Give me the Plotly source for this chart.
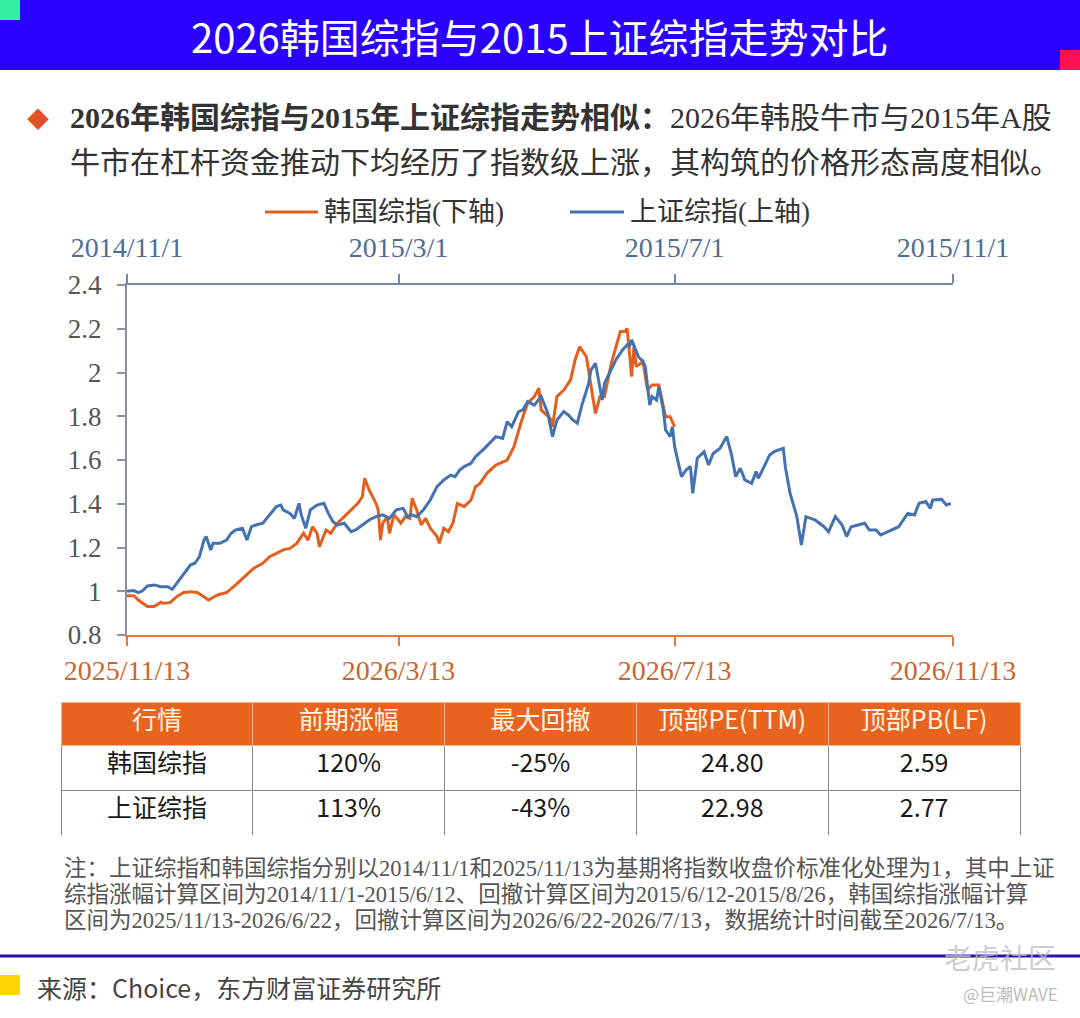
import plotly.graph_objects as go

W, H = 1080, 1018

# --- 韩国综指（下轴，2025/11/13 = 1）---
kr_dates = [
    "2025-11-13", "2025-11-16", "2025-11-18", "2025-11-20", "2025-11-22", "2025-11-25",
    "2025-11-28", "2025-11-29", "2025-12-02", "2025-12-05", "2025-12-08", "2025-12-11",
    "2025-12-14", "2025-12-17", "2025-12-19", "2025-12-23", "2025-12-27", "2025-12-31",
    "2026-01-05", "2026-01-08", "2026-01-12", "2026-01-15", "2026-01-18", "2026-01-21",
    "2026-01-24", "2026-01-27", "2026-01-30", "2026-02-01", "2026-02-03", "2026-02-05",
    "2026-02-06", "2026-02-09", "2026-02-11", "2026-02-14", "2026-02-17", "2026-02-20",
    "2026-02-23", "2026-02-25", "2026-02-26", "2026-02-28", "2026-03-03", "2026-03-04",
    "2026-03-05", "2026-03-06", "2026-03-08", "2026-03-09", "2026-03-11", "2026-03-14",
    "2026-03-16", "2026-03-18", "2026-03-19", "2026-03-21", "2026-03-23", "2026-03-25",
    "2026-03-27", "2026-03-30", "2026-03-31", "2026-04-02", "2026-04-04", "2026-04-06",
    "2026-04-08", "2026-04-11", "2026-04-14", "2026-04-16", "2026-04-18", "2026-04-21",
    "2026-04-25", "2026-04-30", "2026-05-03", "2026-05-06", "2026-05-09", "2026-05-12",
    "2026-05-14", "2026-05-15", "2026-05-19", "2026-05-20", "2026-05-22", "2026-05-25",
    "2026-05-28", "2026-05-30", "2026-06-01", "2026-06-04", "2026-06-06", "2026-06-08",
    "2026-06-10", "2026-06-12", "2026-06-15", "2026-06-17", "2026-06-19", "2026-06-21",
    "2026-06-22", "2026-06-24", "2026-06-25", "2026-06-26", "2026-06-29", "2026-07-01",
    "2026-07-03", "2026-07-06", "2026-07-09", "2026-07-11", "2026-07-13",
]
kr_values = [
    0.98, 0.98, 0.96, 0.945, 0.93, 0.93,
    0.95, 0.945, 0.948, 0.975, 0.994, 0.998,
    0.994, 0.975, 0.96, 0.983, 0.994, 1.029,
    1.074, 1.105, 1.128, 1.158, 1.173, 1.189,
    1.196, 1.219, 1.265, 1.234, 1.295, 1.265,
    1.204, 1.28, 1.265, 1.311, 1.341, 1.372,
    1.402, 1.432, 1.516, 1.463, 1.402, 1.372,
    1.234, 1.311, 1.341, 1.265, 1.35, 1.311,
    1.341, 1.333, 1.425, 1.372, 1.303, 1.333,
    1.288, 1.25, 1.219, 1.288, 1.272, 1.311,
    1.402, 1.387, 1.417, 1.478, 1.493, 1.539,
    1.577, 1.60, 1.661, 1.768, 1.859, 1.89,
    1.928, 1.829, 1.791, 1.752, 1.89, 1.92,
    1.966, 2.057, 2.118, 2.072, 1.935, 1.813,
    1.89, 1.89, 2.042, 2.118, 2.187, 2.187,
    2.202, 1.981, 2.118, 2.027, 2.05, 1.92,
    1.943, 1.943, 1.798, 1.798, 1.752,
]

# --- 上证综指（上轴，2014/11/1 = 1）---
sh_dates = [
    "2014-11-01", "2014-11-04", "2014-11-06", "2014-11-08", "2014-11-10", "2014-11-13",
    "2014-11-16", "2014-11-19", "2014-11-21", "2014-11-23", "2014-11-26", "2014-11-29",
    "2014-12-01", "2014-12-03", "2014-12-05", "2014-12-06", "2014-12-08", "2014-12-09",
    "2014-12-12", "2014-12-15", "2014-12-17", "2014-12-19", "2014-12-22", "2014-12-24",
    "2014-12-26", "2014-12-28", "2014-12-31", "2015-01-03", "2015-01-06", "2015-01-08",
    "2015-01-09", "2015-01-12", "2015-01-14", "2015-01-16", "2015-01-17", "2015-01-19",
    "2015-01-21", "2015-01-24", "2015-01-27", "2015-01-29", "2015-01-31", "2015-02-02",
    "2015-02-05", "2015-02-08", "2015-02-10", "2015-02-13", "2015-02-16", "2015-02-19",
    "2015-02-22", "2015-02-25", "2015-02-28", "2015-03-03", "2015-03-05", "2015-03-07",
    "2015-03-09", "2015-03-12", "2015-03-15", "2015-03-18", "2015-03-21", "2015-03-24",
    "2015-03-26", "2015-03-28", "2015-03-30", "2015-04-02", "2015-04-04", "2015-04-08",
    "2015-04-10", "2015-04-13", "2015-04-16", "2015-04-18", "2015-04-20", "2015-04-23",
    "2015-04-25", "2015-04-27", "2015-04-30", "2015-05-03", "2015-05-06", "2015-05-08",
    "2015-05-10", "2015-05-13", "2015-05-15", "2015-05-17", "2015-05-19", "2015-05-21",
    "2015-05-24", "2015-05-25", "2015-05-27", "2015-05-30", "2015-05-31", "2015-06-03",
    "2015-06-05", "2015-06-08", "2015-06-10", "2015-06-11", "2015-06-12", "2015-06-15",
    "2015-06-17", "2015-06-18", "2015-06-20", "2015-06-21", "2015-06-23", "2015-06-24",
    "2015-06-26", "2015-06-27", "2015-06-29", "2015-06-30", "2015-07-01", "2015-07-04",
    "2015-07-06", "2015-07-08", "2015-07-09", "2015-07-11", "2015-07-14", "2015-07-16",
    "2015-07-18", "2015-07-21", "2015-07-24", "2015-07-26", "2015-07-28", "2015-07-30",
    "2015-08-01", "2015-08-04", "2015-08-06", "2015-08-07", "2015-08-10", "2015-08-12",
    "2015-08-14", "2015-08-18", "2015-08-19", "2015-08-21", "2015-08-24", "2015-08-26",
    "2015-08-28", "2015-09-01", "2015-09-05", "2015-09-07", "2015-09-10", "2015-09-13",
    "2015-09-15", "2015-09-17", "2015-09-20", "2015-09-23", "2015-09-25", "2015-09-28",
    "2015-09-30", "2015-10-03", "2015-10-08", "2015-10-12", "2015-10-15", "2015-10-17",
    "2015-10-20", "2015-10-22", "2015-10-23", "2015-10-27", "2015-10-29", "2015-10-31",
]
sh_values = [
    1.0, 1.003, 0.994, 1.003, 1.024, 1.029,
    1.021, 1.021, 1.009, 1.036, 1.082, 1.12,
    1.128, 1.158, 1.234, 1.25, 1.189, 1.219,
    1.219, 1.234, 1.265, 1.28, 1.288, 1.234,
    1.295, 1.303, 1.311, 1.349, 1.387, 1.394,
    1.372, 1.356, 1.333, 1.402, 1.349, 1.288,
    1.372, 1.394, 1.402, 1.356, 1.318, 1.303,
    1.311, 1.272, 1.28, 1.303, 1.326, 1.341,
    1.349, 1.333, 1.372, 1.379, 1.341, 1.349,
    1.341, 1.372, 1.417, 1.478, 1.509, 1.531,
    1.524, 1.554, 1.57, 1.585, 1.615, 1.653,
    1.676, 1.707, 1.699, 1.775, 1.752, 1.821,
    1.829, 1.867, 1.851, 1.89, 1.813, 1.707,
    1.783, 1.821, 1.806, 1.783, 1.768, 1.851,
    1.95, 2.011, 2.042, 1.874, 1.95, 2.011,
    2.057, 2.103, 2.126, 2.12, 2.149, 2.072,
    2.05, 2.027, 1.851, 1.89, 1.874, 1.935,
    1.829, 1.737, 1.707, 1.752, 1.661, 1.524,
    1.554, 1.57, 1.448, 1.608, 1.638, 1.577,
    1.63, 1.653, 1.707, 1.63, 1.524, 1.562,
    1.509, 1.493, 1.547, 1.516, 1.585, 1.623,
    1.638, 1.653, 1.562, 1.448, 1.341, 1.211,
    1.341, 1.326, 1.295, 1.272, 1.341, 1.303,
    1.25, 1.295, 1.303, 1.311, 1.28, 1.28,
    1.257, 1.272, 1.295, 1.356, 1.349, 1.402,
    1.41, 1.379, 1.417, 1.42, 1.394, 1.402,
]

# --- 轴刻度 ---
bottom_ticks = ["2025-11-13", "2026-03-13", "2026-07-13", "2026-11-13"]
bottom_labels = ["2025/11/13", "2026/3/13", "2026/7/13", "2026/11/13"]
top_ticks = ["2014-11-01", "2015-03-01", "2015-07-01", "2015-11-01"]
top_labels = ["2014/11/1", "2015/3/1", "2015/7/1", "2015/11/1"]

# --- 表格 ---
table_header = ["行情", "前期涨幅", "最大回撤", "顶部PE(TTM)", "顶部PB(LF)"]
table_names = ["韩国综指", "上证综指"]
table_gain = ["120%", "113%"]
table_drawdown = ["-25%", "-43%"]
table_pe = ["24.80", "22.98"]
table_pb = ["2.59", "2.77"]

title_text = "2026韩国综指与2015上证综指走势对比"
subtitle_bold = "2026年韩国综指与2015年上证综指走势相似："
subtitle_rest = "2026年韩股牛市与2015年A股"
subtitle_line2 = "牛市在杠杆资金推动下均经历了指数级上涨，其构筑的价格形态高度相似。"
note_lines = [
    "注：上证综指和韩国综指分别以2014/11/1和2025/11/13为基期将指数收盘价标准化处理为1，其中上证",
    "综指涨幅计算区间为2014/11/1-2015/6/12、回撤计算区间为2015/6/12-2015/8/26，韩国综指涨幅计算",
    "区间为2025/11/13-2026/6/22，回撤计算区间为2026/6/22-2026/7/13，数据统计时间截至2026/7/13。",
]
source_text = "来源：Choice，东方财富证券研究所"

ORANGE = "#E2601F"
BLUE = "#4472B0"
SERIF = "Liberation Serif, Noto Sans CJK SC"
SANS = "Noto Sans CJK SC"


def px_x(x):
    return x / W


def px_y(y):
    return 1 - y / H


fig = go.Figure()

fig.add_trace(go.Scatter(
    x=kr_dates, y=kr_values, name="韩国综指(下轴)", mode="lines",
    line=dict(color=ORANGE, width=3), xaxis="x", yaxis="y",
))
fig.add_trace(go.Scatter(
    x=sh_dates, y=sh_values, name="上证综指(上轴)", mode="lines",
    line=dict(color=BLUE, width=3), xaxis="x2", yaxis="y",
))

fig.add_trace(go.Table(
    domain=dict(x=[px_x(61), px_x(1020)], y=[px_y(836), px_y(702)]),
    columnwidth=[1, 1, 1, 1, 1],
    header=dict(
        values=table_header, height=43, align="center",
        fill_color="#E8641E", line=dict(color="#F4B08A", width=1),
        font=dict(family=SANS, size=25, color="#FFF6EA"),
    ),
    cells=dict(
        values=[table_names, table_gain, table_drawdown, table_pe, table_pb],
        height=45, align="center",
        fill_color="white", line=dict(color="#8A8A8A", width=1),
        font=dict(family=SANS, size=25, color="#1A1A1A"),
    ),
))

plot_x = [px_x(127), px_x(953)]
plot_y = [px_y(635), px_y(285)]

fig.update_layout(
    width=W, height=H,
    margin=dict(l=0, r=0, t=0, b=0, autoexpand=False),
    paper_bgcolor="white", plot_bgcolor="white",
    showlegend=False,
    xaxis=dict(
        domain=plot_x, type="date", anchor="y",
        range=["2025-11-13", "2026-11-13"],
        tickvals=bottom_ticks, ticktext=bottom_labels,
        showline=True, linecolor="#E07A3C", linewidth=2,
        ticks="outside", ticklen=9, tickcolor="#E07A3C", tickwidth=2,
        tickfont=dict(family=SERIF, size=28, color="#C9662E"),
        ticklabelstandoff=0,
        showgrid=False, zeroline=False,
    ),
    xaxis2=dict(
        type="date", overlaying="x", side="top", anchor="y",
        range=["2014-11-01", "2015-11-01"],
        tickvals=top_ticks, ticktext=top_labels,
        showline=True, linecolor="#7188AC", linewidth=2,
        ticks="outside", ticklen=9, tickcolor="#7188AC", tickwidth=2,
        tickfont=dict(family=SERIF, size=28, color="#4D6C98"),
        ticklabelstandoff=6,
        showgrid=False, zeroline=False,
    ),
    yaxis=dict(
        domain=plot_y, range=[0.8, 2.4], tick0=0.8, dtick=0.2,
        showline=True, linecolor="#8C92A0", linewidth=2,
        ticks="outside", ticklen=8, tickcolor="#8C92A0", tickwidth=2,
        tickfont=dict(family=SERIF, size=27, color="#555555"),
        ticklabelstandoff=10,
        showgrid=False, zeroline=False,
    ),
)

shapes = [
    # 标题栏
    dict(type="rect", x0=0, x1=1, y0=px_y(70), y1=1,
         fillcolor="#2A00FF", line=dict(width=0), layer="below"),
    dict(type="rect", x0=0, x1=px_x(20), y0=px_y(20), y1=1,
         fillcolor="#33F0A0", line=dict(width=0)),
    dict(type="rect", x0=px_x(1060), x1=1, y0=px_y(70), y1=px_y(50),
         fillcolor="#FF1050", line=dict(width=0)),
    # 图例线段
    dict(type="line", x0=px_x(265), x1=px_x(318), y0=px_y(212), y1=px_y(212),
         line=dict(color=ORANGE, width=3)),
    dict(type="line", x0=px_x(570), x1=px_x(624), y0=px_y(212), y1=px_y(212),
         line=dict(color=BLUE, width=3)),
    # 底部分隔线和来源色块
    dict(type="line", x0=0, x1=1, y0=px_y(956), y1=px_y(956),
         line=dict(color="#2A10B0", width=3)),
    dict(type="rect", x0=0, x1=px_x(20), y0=px_y(995), y1=px_y(975),
         fillcolor="#FFD500", line=dict(width=0)),
]
for s in shapes:
    s.update(xref="paper", yref="paper")

annotations = [
    dict(text=title_text, x=0.5, y=px_y(36), xanchor="center", yanchor="middle",
         font=dict(family=SANS, size=40, color="white")),
    dict(text="◆", x=px_x(38), y=px_y(117), xanchor="center", yanchor="middle",
         font=dict(family=SANS, size=22, color="#E2502A")),
    dict(text="<b>" + subtitle_bold + "</b>" + subtitle_rest, x=px_x(68), y=px_y(117),
         xanchor="left", yanchor="middle", font=dict(family=SERIF, size=30, color="#333333")),
    dict(text=subtitle_line2, x=px_x(68), y=px_y(162),
         xanchor="left", yanchor="middle", font=dict(family=SERIF, size=30, color="#333333")),
    dict(text="韩国综指(下轴)", x=px_x(322), y=px_y(212), xanchor="left", yanchor="middle",
         font=dict(family=SERIF, size=27, color="#333333")),
    dict(text="上证综指(上轴)", x=px_x(628), y=px_y(212), xanchor="left", yanchor="middle",
         font=dict(family=SERIF, size=27, color="#333333")),
    dict(text=source_text, x=px_x(35), y=px_y(987), xanchor="left", yanchor="middle",
         font=dict(family=SANS, size=25, color="#444444")),
    dict(text="老虎社区", x=px_x(1058), y=px_y(957), xanchor="right", yanchor="middle",
         font=dict(family=SANS, size=28, color="rgba(190,190,190,0.8)")),
    dict(text="@巨潮WAVE", x=px_x(1060), y=px_y(993), xanchor="right", yanchor="middle",
         font=dict(family=SANS, size=17, color="#BBBBBB")),
]
for i, line in enumerate(note_lines):
    annotations.append(dict(
        text=line, x=px_x(62), y=px_y(868 + 26 * i), xanchor="left", yanchor="middle",
        font=dict(family=SERIF, size=22.5, color="#555555"),
    ))

for a in annotations:
    a.update(xref="paper", yref="paper", showarrow=False)

fig.update_layout(shapes=shapes, annotations=annotations)

# 去掉页面默认边距，让图正好铺满窗口；隐藏工具栏
fig.write_html(
    "out.html",
    config={"displayModeBar": False},
    post_script="document.body.style.margin = '0';",
)
